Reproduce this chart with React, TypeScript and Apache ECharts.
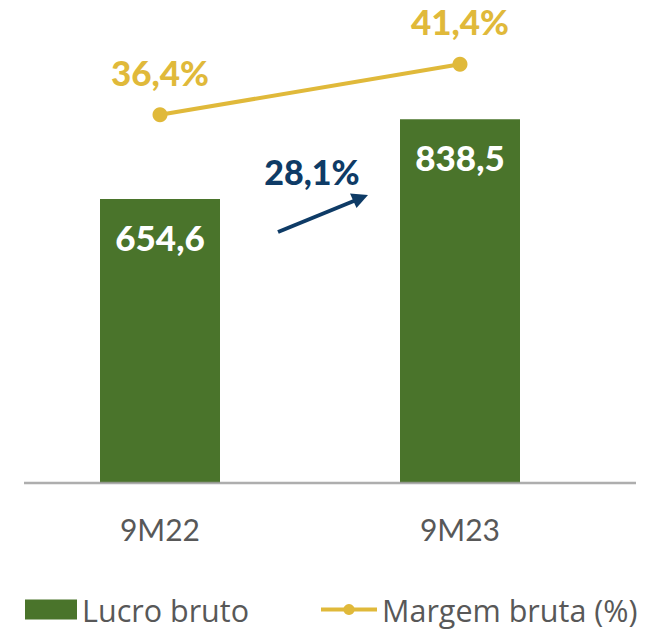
import React, { useEffect, useRef } from "react";
import * as echarts from "echarts";

const categories = ["9M22", "9M23"];
const lucroBruto = [654.6, 838.5];
const margemBruta = [36.4, 41.4];
const growthLabel = "28,1%";
const seriesNames = ["Lucro bruto", "Margem bruta (%)"];

const GREEN = "#4A742B";
const GOLD = "#E0B93A";
const NAVY = "#0E3B66";
const GREY_TEXT = "#585858";
const FONT = "Lato, 'Open Sans', sans-serif";
const FONT_REG = "'Open Sans', Lato, sans-serif";

const fmt = (v: number) => v.toFixed(1).replace(".", ",");

export default function App() {
  const ref = useRef<HTMLDivElement>(null);
  useEffect(() => {
    if (!ref.current) return;
    const chart = echarts.init(ref.current, null, { renderer: "svg" });
    chart.setOption({
      animation: false,
      backgroundColor: "#ffffff",
      grid: { left: 10, right: 56, top: 33, bottom: 147, containLabel: false },
      xAxis: {
        type: "category",
        data: categories,
        axisLine: { show: false },
        axisTick: { show: false },
        axisLabel: { color: GREY_TEXT, fontSize: 30, fontFamily: FONT, margin: 31 },
      },
      yAxis: [
        { type: "value", min: 0, max: 1037, show: false, splitLine: { show: false } },
        { type: "value", min: 0, max: 44.49, show: false, splitLine: { show: false } },
      ],
      legend: [
        {
          data: [{ name: seriesNames[0], icon: "rect" }],
          left: 25,
          top: 594,
          padding: 0,
          itemWidth: 52,
          itemHeight: 20,
          itemGap: 5,
          textStyle: { fontSize: 30.5, lineHeight: 30, color: GREY_TEXT, fontFamily: FONT_REG },
        },
        {
          data: [seriesNames[1]],
          left: 319,
          top: 594,
          padding: 0,
          itemWidth: 56,
          itemHeight: 14,
          lineStyle: { width: 4 },
          textStyle: { fontSize: 30.5, lineHeight: 30, color: GREY_TEXT, fontFamily: FONT_REG },
        },
      ],
      series: [
        {
          name: seriesNames[0],
          type: "bar",
          data: lucroBruto,
          barWidth: 120,
          itemStyle: { color: GREEN },
          label: {
            show: true,
            position: [60, 38],
            align: "center",
            verticalAlign: "middle",
            formatter: (p: any) => fmt(p.value),
            color: "#ffffff",
            fontSize: 35,
            fontWeight: 900,
            fontFamily: FONT,
          },
        },
        {
          name: seriesNames[1],
          type: "line",
          yAxisIndex: 1,
          data: margemBruta,
          symbol: "circle",
          symbolSize: 15,
          lineStyle: { color: GOLD, width: 4 },
          itemStyle: { color: GOLD },
          label: {
            show: true,
            position: "top",
            distance: 18,
            formatter: (p: any) => fmt(p.value) + "%",
            color: GOLD,
            fontSize: 35,
            fontWeight: 900,
            fontFamily: FONT,
          },
        },
      ],
      graphic: [
        {
          type: "line",
          z: 100,
          shape: { x1: 24, y1: 483, x2: 636, y2: 483 },
          style: { stroke: "rgba(160,160,160,0.85)", lineWidth: 2.5 },
        },
        {
          type: "line",
          shape: { x1: 278, y1: 232, x2: 355, y2: 200.5 },
          style: { stroke: NAVY, lineWidth: 4 },
        },
        {
          type: "polygon",
          shape: { points: [[368, 195], [356.5, 208], [350, 193.5]] },
          style: { fill: NAVY },
        },
        {
          type: "text",
          x: 312,
          y: 171,
          style: {
            text: growthLabel,
            fill: NAVY,
            fontSize: 34,
            fontWeight: 900,
            fontFamily: FONT,
            align: "center",
            verticalAlign: "middle",
          },
        },
      ],
    });
    return () => chart.dispose();
  }, []);
  return (
    <div
      ref={ref}
      style={{ position: "fixed", left: 0, top: 0, width: 666, height: 630 }}
    />
  );
}
